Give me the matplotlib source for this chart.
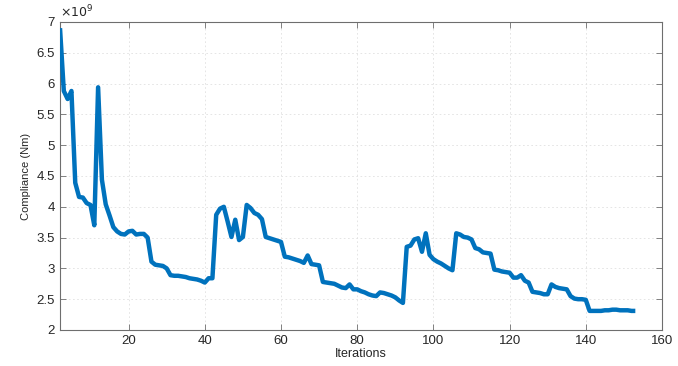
import numpy as np
import matplotlib
matplotlib.use("Agg")
import matplotlib.pyplot as plt
from matplotlib.ticker import FuncFormatter

iterations = list(range(2, 154))
compliance_e9 = [
    6.90, 5.88, 5.75, 5.88, 4.39, 4.16, 4.15, 4.06, 4.03, 3.70,   # 2-11
    5.94, 4.44, 4.04, 3.86, 3.67, 3.60, 3.56, 3.55, 3.60, 3.61,   # 12-21
    3.55, 3.56, 3.56, 3.50, 3.11, 3.06, 3.05, 3.04, 3.00, 2.89,   # 22-31
    2.88, 2.88, 2.87, 2.86, 2.84, 2.83, 2.82, 2.80, 2.77, 2.84,   # 32-41
    2.84, 3.87, 3.97, 4.00, 3.76, 3.51, 3.79, 3.46, 3.51, 4.03,   # 42-51
    3.98, 3.90, 3.87, 3.80, 3.51, 3.49, 3.47, 3.45, 3.43, 3.19,   # 52-61
    3.18, 3.16, 3.14, 3.12, 3.09, 3.21, 3.07, 3.06, 3.05, 2.78,   # 62-71
    2.77, 2.76, 2.75, 2.72, 2.69, 2.68, 2.74, 2.66, 2.66, 2.63,   # 72-81
    2.61, 2.58, 2.56, 2.55, 2.61, 2.60, 2.58, 2.56, 2.53, 2.48,   # 82-91
    2.44, 3.35, 3.37, 3.47, 3.49, 3.27, 3.57, 3.22, 3.15, 3.11,   # 92-101
    3.08, 3.04, 3.00, 2.97, 3.57, 3.55, 3.51, 3.50, 3.47, 3.33,   # 102-111
    3.31, 3.26, 3.25, 3.24, 2.98, 2.97, 2.95, 2.94, 2.93, 2.85,   # 112-121
    2.85, 2.89, 2.80, 2.77, 2.62, 2.61, 2.60, 2.58, 2.58, 2.74,   # 122-131
    2.70, 2.68, 2.67, 2.66, 2.55, 2.51, 2.50, 2.50, 2.49, 2.31,   # 132-141
    2.31, 2.31, 2.31, 2.32, 2.32, 2.33, 2.33, 2.32, 2.32, 2.32,   # 142-151
    2.31, 2.31,                                                   # 152-153
]
x_ticks = [20, 40, 60, 80, 100, 120, 140, 160]
y_ticks = [2, 2.5, 3, 3.5, 4, 4.5, 5, 5.5, 6, 6.5, 7]

plt.rcParams['font.family'] = ['Liberation Sans', 'DejaVu Sans']

fig = plt.figure(figsize=(6.78, 3.66), dpi=100)
ax = fig.add_axes([60/678, 36/366, (662-60)/678, (330-22)/366])

ax.plot(iterations, compliance_e9, color='#0072BD', linewidth=3.2,
        solid_joinstyle='round', solid_capstyle='butt', zorder=3)

ax.set_xlim(2, 160)
ax.set_ylim(2, 7)
ax.set_xticks(x_ticks)
ax.set_yticks(y_ticks)
ax.yaxis.set_major_formatter(FuncFormatter(lambda v, p: ('%g' % v)))

axis_col = '#262626'
for s in ax.spines.values():
    s.set_color('#6e6e6e')
    s.set_linewidth(0.8)
ax.tick_params(direction='in', length=4, width=0.6, colors='#6e6e6e',
               labelcolor=axis_col, labelsize=9.5, top=True, right=True)
ax.grid(True, linestyle=(0, (2, 3)), color='#e0e0e0', linewidth=0.6, zorder=0)
ax.set_axisbelow(True)

ax.set_xlabel('Iterations', fontsize=9, color=axis_col, labelpad=1)
ax.set_ylabel('Compliance (Nm)', fontsize=8, color=axis_col, labelpad=4)

ax.text(0.0, 1.005, r'$\times10^{9}$', transform=ax.transAxes,
        fontsize=9, color=axis_col, ha='left', va='bottom')

fig.savefig('out.png', dpi=100)
